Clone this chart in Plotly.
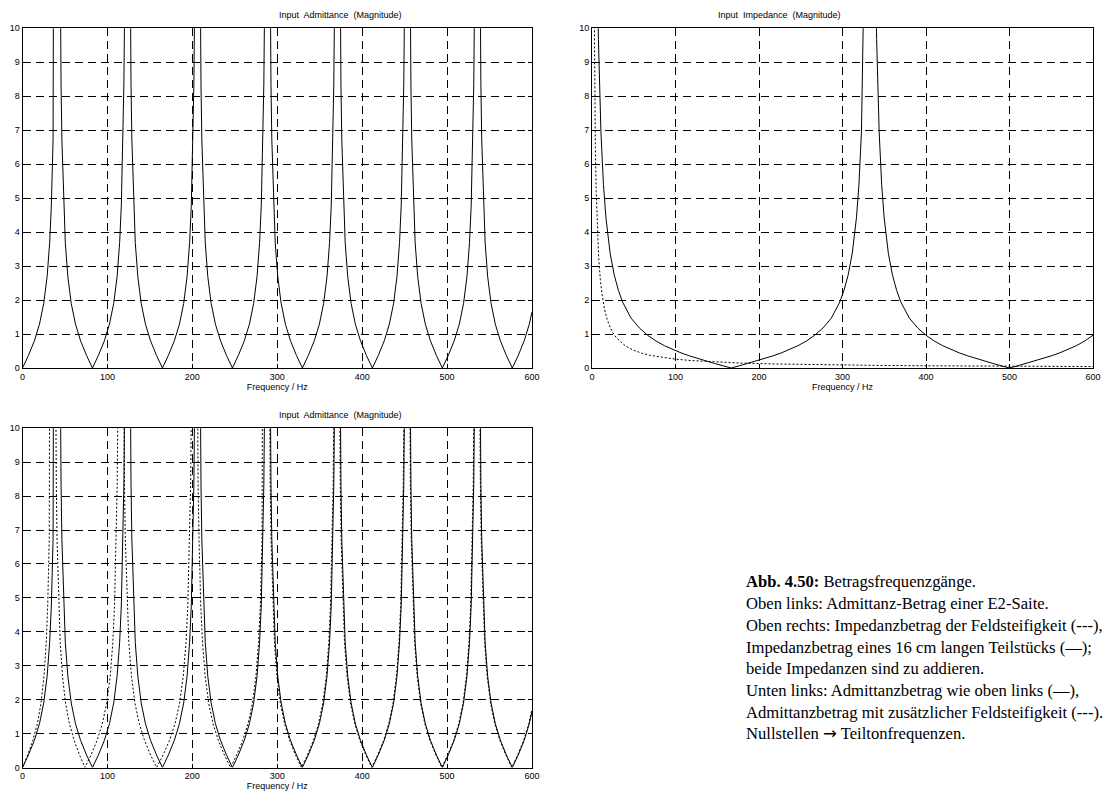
import plotly.graph_objects as go

# ---------------- data ----------------
# Top-left / bottom-left solid: admittance magnitude of the E2 string
adm_f = [
    0, 7, 14, 20, 25, 29, 32, 34, 36, 37, 38, 39, 41.2, 43.4, 44.4, 45.4, 46.4, 48.4, 50.4, 53.4, 57.4, 62.4, 68.4, 75.4,
    82.4, 89.4, 96.4, 102.4, 107.4, 111.4, 114.4, 116.4, 118.4, 119.4, 120.4, 121.4, 123.6, 125.8, 126.8, 127.8, 128.8, 130.8, 132.8, 135.8, 139.8, 144.8, 150.8, 157.8,
    164.8, 171.8, 178.8, 184.8, 189.8, 193.8, 196.8, 198.8, 200.8, 201.8, 202.8, 203.8, 206.0, 208.2, 209.2, 210.2, 211.2, 213.2, 215.2, 218.2, 222.2, 227.2, 233.2, 240.2,
    247.2, 254.2, 261.2, 267.2, 272.2, 276.2, 279.2, 281.2, 283.2, 284.2, 285.2, 286.2, 288.4, 290.6, 291.6, 292.6, 293.6, 295.6, 297.6, 300.6, 304.6, 309.6, 315.6, 322.6,
    329.6, 336.6, 343.6, 349.6, 354.6, 358.6, 361.6, 363.6, 365.6, 366.6, 367.6, 368.6, 370.8, 373.0, 374.0, 375.0, 376.0, 378.0, 380.0, 383.0, 387.0, 392.0, 398.0, 405.0,
    412.0, 419.0, 426.0, 432.0, 437.0, 441.0, 444.0, 446.0, 448.0, 449.0, 450.0, 451.0, 453.2, 455.4, 456.4, 457.4, 458.4, 460.4, 462.4, 465.4, 469.4, 474.4, 480.4, 487.4,
    494.4, 501.4, 508.4, 514.4, 519.4, 523.4, 526.4, 528.4, 530.4, 531.4, 532.4, 533.4, 535.6, 537.8, 538.8, 539.8, 540.8, 542.8, 544.8, 547.8, 551.8, 556.8, 562.8, 569.8,
    576.8, 583.8, 590.8, 596.8, 600,
]
adm_v = [
    0, 0.37, 0.80, 1.29, 1.90, 2.69, 3.69, 4.79, 6.72, 8.35, 11.0, 16.1, 60, 16.1, 11.0, 8.35, 6.72, 4.79, 3.69, 2.69, 1.90, 1.29, 0.80, 0.37,
    0, 0.37, 0.80, 1.29, 1.90, 2.69, 3.69, 4.79, 6.72, 8.35, 11.0, 16.1, 60, 16.1, 11.0, 8.35, 6.72, 4.79, 3.69, 2.69, 1.90, 1.29, 0.80, 0.37,
    0, 0.37, 0.80, 1.29, 1.90, 2.69, 3.69, 4.79, 6.72, 8.35, 11.0, 16.1, 60, 16.1, 11.0, 8.35, 6.72, 4.79, 3.69, 2.69, 1.90, 1.29, 0.80, 0.37,
    0, 0.37, 0.80, 1.29, 1.90, 2.69, 3.69, 4.79, 6.72, 8.35, 11.0, 16.1, 60, 16.1, 11.0, 8.35, 6.72, 4.79, 3.69, 2.69, 1.90, 1.29, 0.80, 0.37,
    0, 0.37, 0.80, 1.29, 1.90, 2.69, 3.69, 4.79, 6.72, 8.35, 11.0, 16.1, 60, 16.1, 11.0, 8.35, 6.72, 4.79, 3.69, 2.69, 1.90, 1.29, 0.80, 0.37,
    0, 0.37, 0.80, 1.29, 1.90, 2.69, 3.69, 4.79, 6.72, 8.35, 11.0, 16.1, 60, 16.1, 11.0, 8.35, 6.72, 4.79, 3.69, 2.69, 1.90, 1.29, 0.80, 0.37,
    0, 0.37, 0.80, 1.29, 1.90, 2.69, 3.69, 4.79, 6.72, 8.35, 11.0, 16.1, 60, 16.1, 11.0, 8.35, 6.72, 4.79, 3.69, 2.69, 1.90, 1.29, 0.80, 0.37,
    0, 0.37, 0.80, 1.29, 1.65,
]

# Bottom-left dashed: admittance with additional field stiffness
stiff_adm_f = [
    0, 6.1, 12.2, 17.5, 21.8, 25.3, 28.0, 29.7, 31.5, 32.3, 33.2, 34.1, 36.0, 38.0, 38.9, 39.8, 40.7, 42.6, 44.4, 47.1, 50.7, 55.3, 60.8, 67.1,
    73.5, 80.7, 87.9, 94.0, 99.2, 103.3, 106.4, 108.4, 110.5, 111.5, 112.5, 113.5, 115.8, 118.1, 119.1, 120.1, 121.1, 123.2, 125.2, 128.3, 132.4, 137.5, 143.7, 150.8,
    158.0, 165.6, 173.1, 179.6, 185.0, 189.3, 192.6, 194.7, 196.9, 198.0, 199.0, 200.1, 202.5, 204.8, 205.8, 206.8, 207.9, 209.9, 212.0, 215.1, 219.2, 224.4, 230.6, 237.8,
    245.0, 252.2, 259.4, 265.6, 270.8, 274.9, 278.0, 280.1, 282.1, 283.2, 284.2, 285.2, 287.5, 289.7, 290.7, 291.7, 292.7, 294.7, 296.7, 299.6, 303.6, 308.6, 314.6, 321.5,
    328.5, 335.6, 342.6, 348.6, 353.7, 357.7, 360.7, 362.7, 364.8, 365.8, 366.8, 367.8, 370.0, 372.2, 373.2, 374.2, 375.2, 377.2, 379.2, 382.2, 386.2, 391.3, 397.3, 404.3,
    411.3, 418.3, 425.3, 431.3, 436.4, 440.4, 443.4, 445.4, 447.4, 448.4, 449.4, 450.4, 452.6, 454.8, 455.8, 456.8, 457.8, 459.8, 461.8, 464.8, 468.8, 473.8, 479.8, 486.8,
    493.8, 500.8, 507.8, 513.8, 518.8, 522.8, 525.8, 527.8, 529.8, 530.8, 531.8, 532.8, 535.0, 537.2, 538.2, 539.2, 540.2, 542.2, 544.2, 547.2, 551.2, 556.2, 562.2, 569.2,
    576.2, 583.2, 590.2, 596.2, 600,
]
stiff_adm_v = [
    0, 0.37, 0.80, 1.29, 1.90, 2.69, 3.69, 4.79, 6.72, 8.35, 11.0, 16.1, 60, 16.1, 11.0, 8.35, 6.72, 4.79, 3.69, 2.69, 1.90, 1.29, 0.80, 0.37,
    0, 0.37, 0.80, 1.29, 1.90, 2.69, 3.69, 4.79, 6.72, 8.35, 11.0, 16.1, 60, 16.1, 11.0, 8.35, 6.72, 4.79, 3.69, 2.69, 1.90, 1.29, 0.80, 0.37,
    0, 0.37, 0.80, 1.29, 1.90, 2.69, 3.69, 4.79, 6.72, 8.35, 11.0, 16.1, 60, 16.1, 11.0, 8.35, 6.72, 4.79, 3.69, 2.69, 1.90, 1.29, 0.80, 0.37,
    0, 0.37, 0.80, 1.29, 1.90, 2.69, 3.69, 4.79, 6.72, 8.35, 11.0, 16.1, 60, 16.1, 11.0, 8.35, 6.72, 4.79, 3.69, 2.69, 1.90, 1.29, 0.80, 0.37,
    0, 0.37, 0.80, 1.29, 1.90, 2.69, 3.69, 4.79, 6.72, 8.35, 11.0, 16.1, 60, 16.1, 11.0, 8.35, 6.72, 4.79, 3.69, 2.69, 1.90, 1.29, 0.80, 0.37,
    0, 0.37, 0.80, 1.29, 1.90, 2.69, 3.69, 4.79, 6.72, 8.35, 11.0, 16.1, 60, 16.1, 11.0, 8.35, 6.72, 4.79, 3.69, 2.69, 1.90, 1.29, 0.80, 0.37,
    0, 0.37, 0.80, 1.29, 1.90, 2.69, 3.69, 4.79, 6.72, 8.35, 11.0, 16.1, 60, 16.1, 11.0, 8.35, 6.72, 4.79, 3.69, 2.69, 1.90, 1.29, 0.80, 0.37,
    0, 0.37, 0.80, 1.29, 1.73,
]

# Top-right solid: impedance magnitude of a 16 cm piece
piece_f = [
    0, 4.7, 6.7, 7.7, 8.7, 10.7, 13.7, 16.7, 21.7, 26.7, 31.7, 36.7, 46.7, 56.7, 66.7, 76.7, 86.7, 96.7, 106.7, 116.7, 126.7, 136.7, 146.7, 156.7, 166.7,
    176.7, 186.7, 196.7, 206.7, 216.7, 226.7, 236.7, 246.7, 256.7, 266.7, 276.7, 286.7, 296.7, 301.7, 306.7, 311.7, 316.7, 319.7, 322.7, 324.7, 325.7, 326.7, 328.7, 333.3,
    337.9, 339.9, 340.9, 341.9, 343.9, 346.9, 349.9, 354.9, 359.9, 364.9, 369.9, 380, 390, 400, 410, 420, 430, 440, 450, 460, 470, 480, 490, 500,
    510, 520, 530, 540, 550, 560, 570, 580, 590, 600,
]
piece_v = [
    60, 15.9, 11.1, 9.67, 8.55, 6.95, 5.40, 4.42, 3.38, 2.73, 2.28, 1.94, 1.47, 1.18, 0.963, 0.794, 0.657, 0.543, 0.444, 0.357, 0.277, 0.203, 0.134, 0.066, 0,
    0.066, 0.134, 0.203, 0.277, 0.357, 0.444, 0.543, 0.657, 0.794, 0.963, 1.18, 1.47, 1.94, 2.28, 2.73, 3.38, 4.42, 5.40, 6.95, 8.55, 9.67, 11.1, 15.9, 60,
    15.9, 11.1, 9.67, 8.55, 6.95, 5.40, 4.42, 3.38, 2.73, 2.28, 1.94, 1.47, 1.18, 0.963, 0.794, 0.657, 0.543, 0.444, 0.357, 0.277, 0.203, 0.134, 0.066, 0,
    0.066, 0.134, 0.203, 0.277, 0.357, 0.444, 0.543, 0.657, 0.794, 0.963,
]

# Top-right dashed: impedance magnitude of the field stiffness
field_f = [2.0, 2.4, 2.6, 3, 3.5, 4, 5, 6, 7, 8, 10, 12, 15, 18, 22, 26, 30, 35, 40, 50, 60, 70, 85, 100,
           120, 150, 180, 220, 260, 300, 350, 400, 450, 500, 550, 600]
field_v = [13.0, 10.8, 10.0, 8.67, 7.43, 6.5, 5.2, 4.33, 3.71, 3.25, 2.6, 2.17, 1.73, 1.44, 1.18, 1.0, 0.867, 0.743, 0.65, 0.52, 0.433, 0.371, 0.306, 0.26,
           0.217, 0.173, 0.144, 0.118, 0.1, 0.087, 0.074, 0.065, 0.058, 0.052, 0.047, 0.043]

x_ticks = [0, 100, 200, 300, 400, 500, 600]
y_ticks = [0, 1, 2, 3, 4, 5, 6, 7, 8, 9, 10]

panel_titles = ["Input\u00a0 Admittance\u00a0 (Magnitude)",
                "Input\u00a0 Impedance\u00a0 (Magnitude)",
                "Input\u00a0 Admittance\u00a0 (Magnitude)"]
x_title = "Frequency / Hz"

caption_lines = [
    "<b>Abb. 4.50:</b> Betragsfrequenzgänge.",
    "Oben links: Admittanz-Betrag einer E2-Saite.",
    "Oben rechts: Impedanzbetrag der Feldsteifigkeit (---),",
    "Impedanzbetrag eines 16 cm langen Teilstücks (—);",
    "beide Impedanzen sind zu addieren.",
    "Unten links: Admittanzbetrag wie oben links (—),",
    "Admittanzbetrag mit zusätzlicher Feldsteifigkeit (---).",
    "Nullstellen <span style='font-family:DejaVu Sans'>→</span> Teiltonfrequenzen.",
]

# ---------------- figure ----------------
W, H = 1110, 792
fig = go.Figure()

solid = dict(color="black", width=1)
dotted = dict(color="black", width=1, dash="2px,2px")

fig.add_trace(go.Scatter(x=adm_f, y=adm_v, mode="lines", line=solid, xaxis="x", yaxis="y"))
fig.add_trace(go.Scatter(x=field_f, y=field_v, mode="lines", line=dotted, xaxis="x2", yaxis="y2"))
fig.add_trace(go.Scatter(x=piece_f, y=piece_v, mode="lines", line=solid, xaxis="x2", yaxis="y2"))
fig.add_trace(go.Scatter(x=stiff_adm_f, y=stiff_adm_v, mode="lines", line=dotted, xaxis="x3", yaxis="y3"))
fig.add_trace(go.Scatter(x=adm_f, y=adm_v, mode="lines", line=solid, xaxis="x3", yaxis="y3"))

def px_dom(a, b):
    return [a / W, b / W]

def py_dom(top, bottom):
    return [1 - bottom / H, 1 - top / H]

tick_font = dict(family="Liberation Sans, Arial, sans-serif", size=9, color="black")

def xax(dom, anchor):
    return dict(domain=dom, anchor=anchor, range=[0, 600], tickvals=x_ticks,
                showgrid=True, gridcolor="black", gridwidth=1, griddash="8px,5px",
                showline=True, linecolor="black", linewidth=1, mirror="allticks",
                ticks="inside", ticklen=4, tickcolor="black", tickfont=tick_font,
                zeroline=False, fixedrange=True, automargin=False,
                title=dict(text=x_title, font=tick_font, standoff=0))

def yax(dom, anchor):
    return dict(domain=dom, anchor=anchor, range=[0, 10], tickvals=y_ticks,
                showgrid=True, gridcolor="black", gridwidth=1, griddash="8px,5px",
                showline=True, linecolor="black", linewidth=1, mirror="allticks",
                ticks="inside", ticklen=4, tickcolor="black", tickfont=tick_font,
                zeroline=False, fixedrange=True, automargin=False)

top_dom_y = py_dom(28.3, 368)
bot_dom_y = py_dom(428.3, 767.5)
left_dom_x = px_dom(22.5, 532)
right_dom_x = px_dom(592, 1093)

annotations = []
for text, xd, yd in [(panel_titles[0], left_dom_x, top_dom_y),
                     (panel_titles[1], right_dom_x, top_dom_y),
                     (panel_titles[2], left_dom_x, bot_dom_y)]:
    annotations.append(dict(text=text, xref="paper", yref="paper",
                            x=(xd[0] + xd[1]) / 2, y=yd[1], yanchor="bottom", yshift=6,
                            showarrow=False, font=dict(family="Liberation Sans, Arial, sans-serif",
                                                       size=9, color="black")))

cap_y = [581, 603, 625, 647, 668.5, 690, 712, 733.5]
for text, yy in zip(caption_lines, cap_y):
    annotations.append(dict(text=text, xref="paper", yref="paper", x=744 / W, y=1 - yy / H,
                            xanchor="left", yanchor="middle", showarrow=False,
                            font=dict(family="Liberation Serif, Times New Roman, serif",
                                      size=16.6, color="black")))

fig.update_layout(
    width=W, height=H, margin=dict(l=0, r=0, t=0, b=0),
    paper_bgcolor="white", plot_bgcolor="white", showlegend=False,
    xaxis=xax(left_dom_x, "y"), yaxis=yax(top_dom_y, "x"),
    xaxis2=xax(right_dom_x, "y2"), yaxis2=yax(top_dom_y, "x2"),
    xaxis3=xax(left_dom_x, "y3"), yaxis3=yax(bot_dom_y, "x3"),
    annotations=annotations,
)

fig.write_html("out.html", config={"displayModeBar": False},
               post_script="document.body.style.margin='0';document.body.style.overflow='hidden';")
